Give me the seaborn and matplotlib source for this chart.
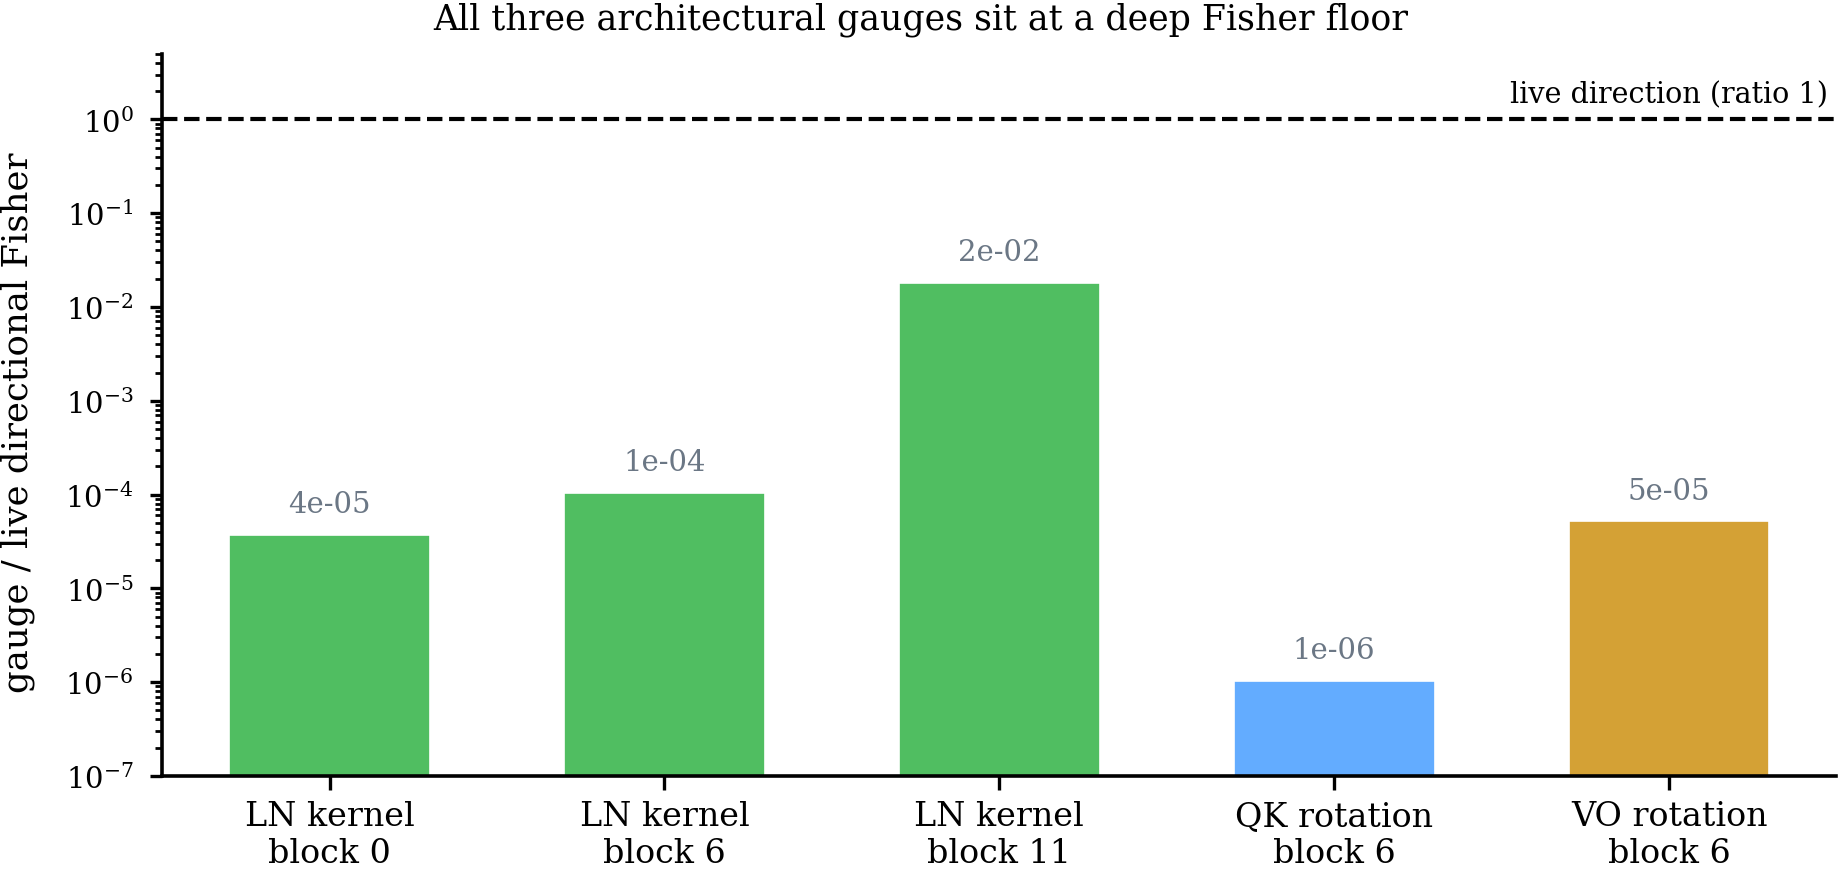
import matplotlib
matplotlib.use("Agg")
import matplotlib.pyplot as plt
import seaborn as sns

CATEGORIES = ["LN kernel\nblock 0", "LN kernel\nblock 6", "LN kernel\nblock 11",
              "QK rotation\nblock 6", "VO rotation\nblock 6"]
RATIOS = [3.7e-5, 1.05e-4, 1.8e-2, 1.04e-6, 5.2e-5]
LABELS = ["4e-05", "1e-04", "2e-02", "1e-06", "5e-05"]
COLORS = ["#50be61", "#50be61", "#50be61", "#63acff", "#d4a135"]


def main() -> None:
    sns.set_style("ticks")
    plt.rcParams["font.family"] = ["DejaVu Serif"]
    plt.rcParams["mathtext.fontset"] = "dejavuserif"
    for key in ("text.color", "axes.labelcolor", "xtick.color", "ytick.color",
                "axes.edgecolor"):
        plt.rcParams[key] = "black"

    fig, ax = plt.subplots(figsize=(9.21, 4.35), dpi=200)
    ax.set_yscale("log")
    sns.barplot(x=CATEGORIES, y=RATIOS, hue=CATEGORIES, palette=COLORS,
                width=0.6, legend=False, saturation=1, ax=ax,
                edgecolor="white", linewidth=0.6)

    # value labels above each bar
    for i, (v, lab) in enumerate(zip(RATIOS, LABELS)):
        ax.annotate(lab, (i, v), xytext=(0, 6), textcoords="offset points",
                    ha="center", va="bottom", fontsize=10.5, color="#6b7785")

    ax.axhline(1.0, color="black", linestyle="--", linewidth=1.5)
    ax.text(0.995, 1.3, "live direction (ratio 1)", transform=ax.get_yaxis_transform(),
            ha="right", va="bottom", fontsize=10.3)

    ax.set_ylim(1e-7, 5)
    ax.set_ylabel("gauge / live directional Fisher", fontsize=12.8)
    ax.yaxis.set_label_coords(-0.076, 0.49)
    fig.suptitle("All three architectural gauges sit at a deep Fisher floor",
                 fontsize=12.5, y=0.997, va="top")
    ax.tick_params(axis="x", labelsize=12, width=1.2, length=5)
    ax.tick_params(axis="y", which="major", labelsize=10.5, width=1.2, length=4.3, pad=6)
    ax.tick_params(axis="y", which="minor", length=2.5, width=1.0)
    for s in ("left", "bottom"):
        ax.spines[s].set_linewidth(1.3)
    sns.despine(ax=ax)

    fig.subplots_adjust(left=0.088, right=0.997, bottom=0.107, top=0.937)
    fig.savefig("out.png", dpi=200)
    plt.close(fig)


if __name__ == "__main__":
    main()
